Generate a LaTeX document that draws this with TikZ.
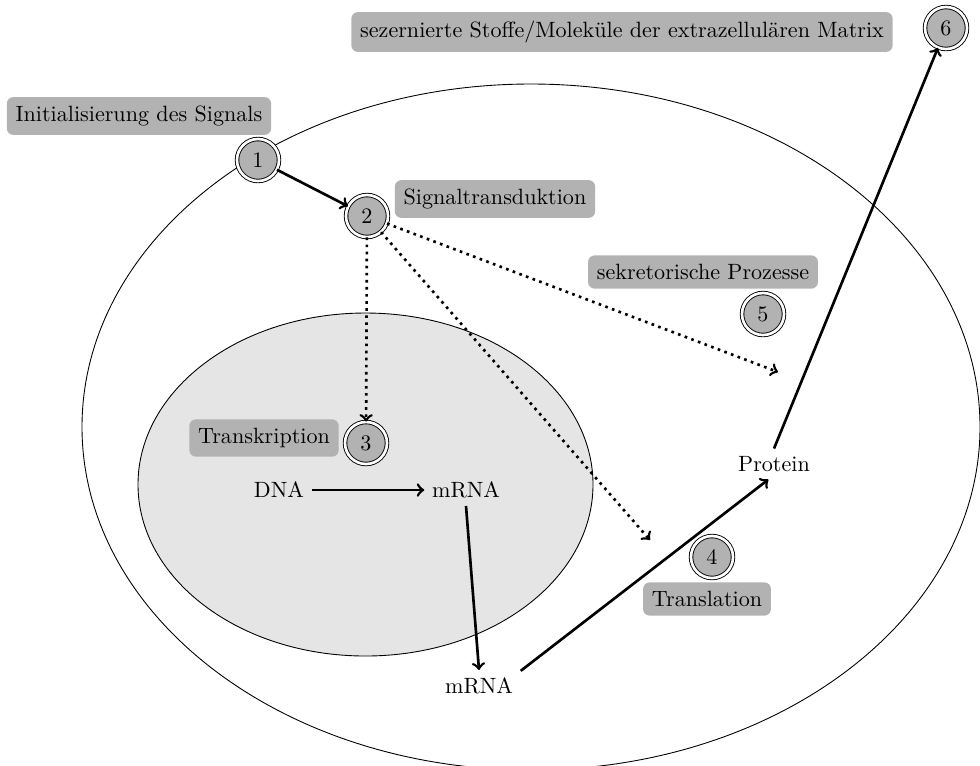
\documentclass[tikz,border=0pt]{standalone}
\usepackage{fontspec}
\usetikzlibrary{arrows}

\begin{document}
\begin{tikzpicture}
  [x=0.0159cm,y=-0.0159cm,
   num/.style={circle,draw,double,double distance=1.2pt,fill=gray!60,
               minimum size=19pt,inner sep=1pt},
   tag/.style={rounded corners=3pt,fill=gray!60,inner sep=4pt},
   sig/.style={->,very thick},
   dot/.style={->,very thick,dotted}]
  \useasboundingbox (0,0) rectangle (980,765);

  % cell and nucleus
  \draw (531,427) ellipse (449 and 343);
  \draw[fill=black!10] (365.5,484.5) ellipse (227.5 and 171.5);

  \node[tag] (t0) at (622,32)  {sezernierte Stoffe/Moleküle der extrazellulären Matrix};
  \node[tag] (t1) at (139,116) {Initialisierung des Signals};
  \node[tag] (t2) at (495,199) {Signaltransduktion};
  \node[tag] (t5) at (703,272) {sekretorische Prozesse};
  \node[tag] (t3) at (264,438) {Transkription};
  \node[tag] (t4) at (707,599) {Translation};

  \node[num] (n1) at (258,160) {1};
  \node[num] (n2) at (367,216) {2};
  \node[num] (n3) at (366,443) {3};
  \node[num] (n4) at (712,557) {4};
  \node[num] (n5) at (763,314) {5};
  \node[num] (n6) at (946,28)  {6};

  \node (dna)   at (279,490) {DNA};
  \node (mrna1) at (466,490) {mRNA};
  \node (mrna2) at (479,686) {mRNA};
  \node (prot)  at (774,464) {Protein};

  \coordinate (e4) at (650,540);
  \coordinate (e5) at (778,372);

\foreach \from/\to in
{n1/n2, dna/mrna1, mrna1.south/mrna2.north, prot.north/n6}
    \draw[sig] (\from) -- (\to);
  \draw[sig] (mrna2.20) -- (prot.-110);

\foreach \from/\to in
{n2/n3, n2/e4, n2/e5}
    \draw[dot] (\from) -- (\to);

\end{tikzpicture}
\end{document}
